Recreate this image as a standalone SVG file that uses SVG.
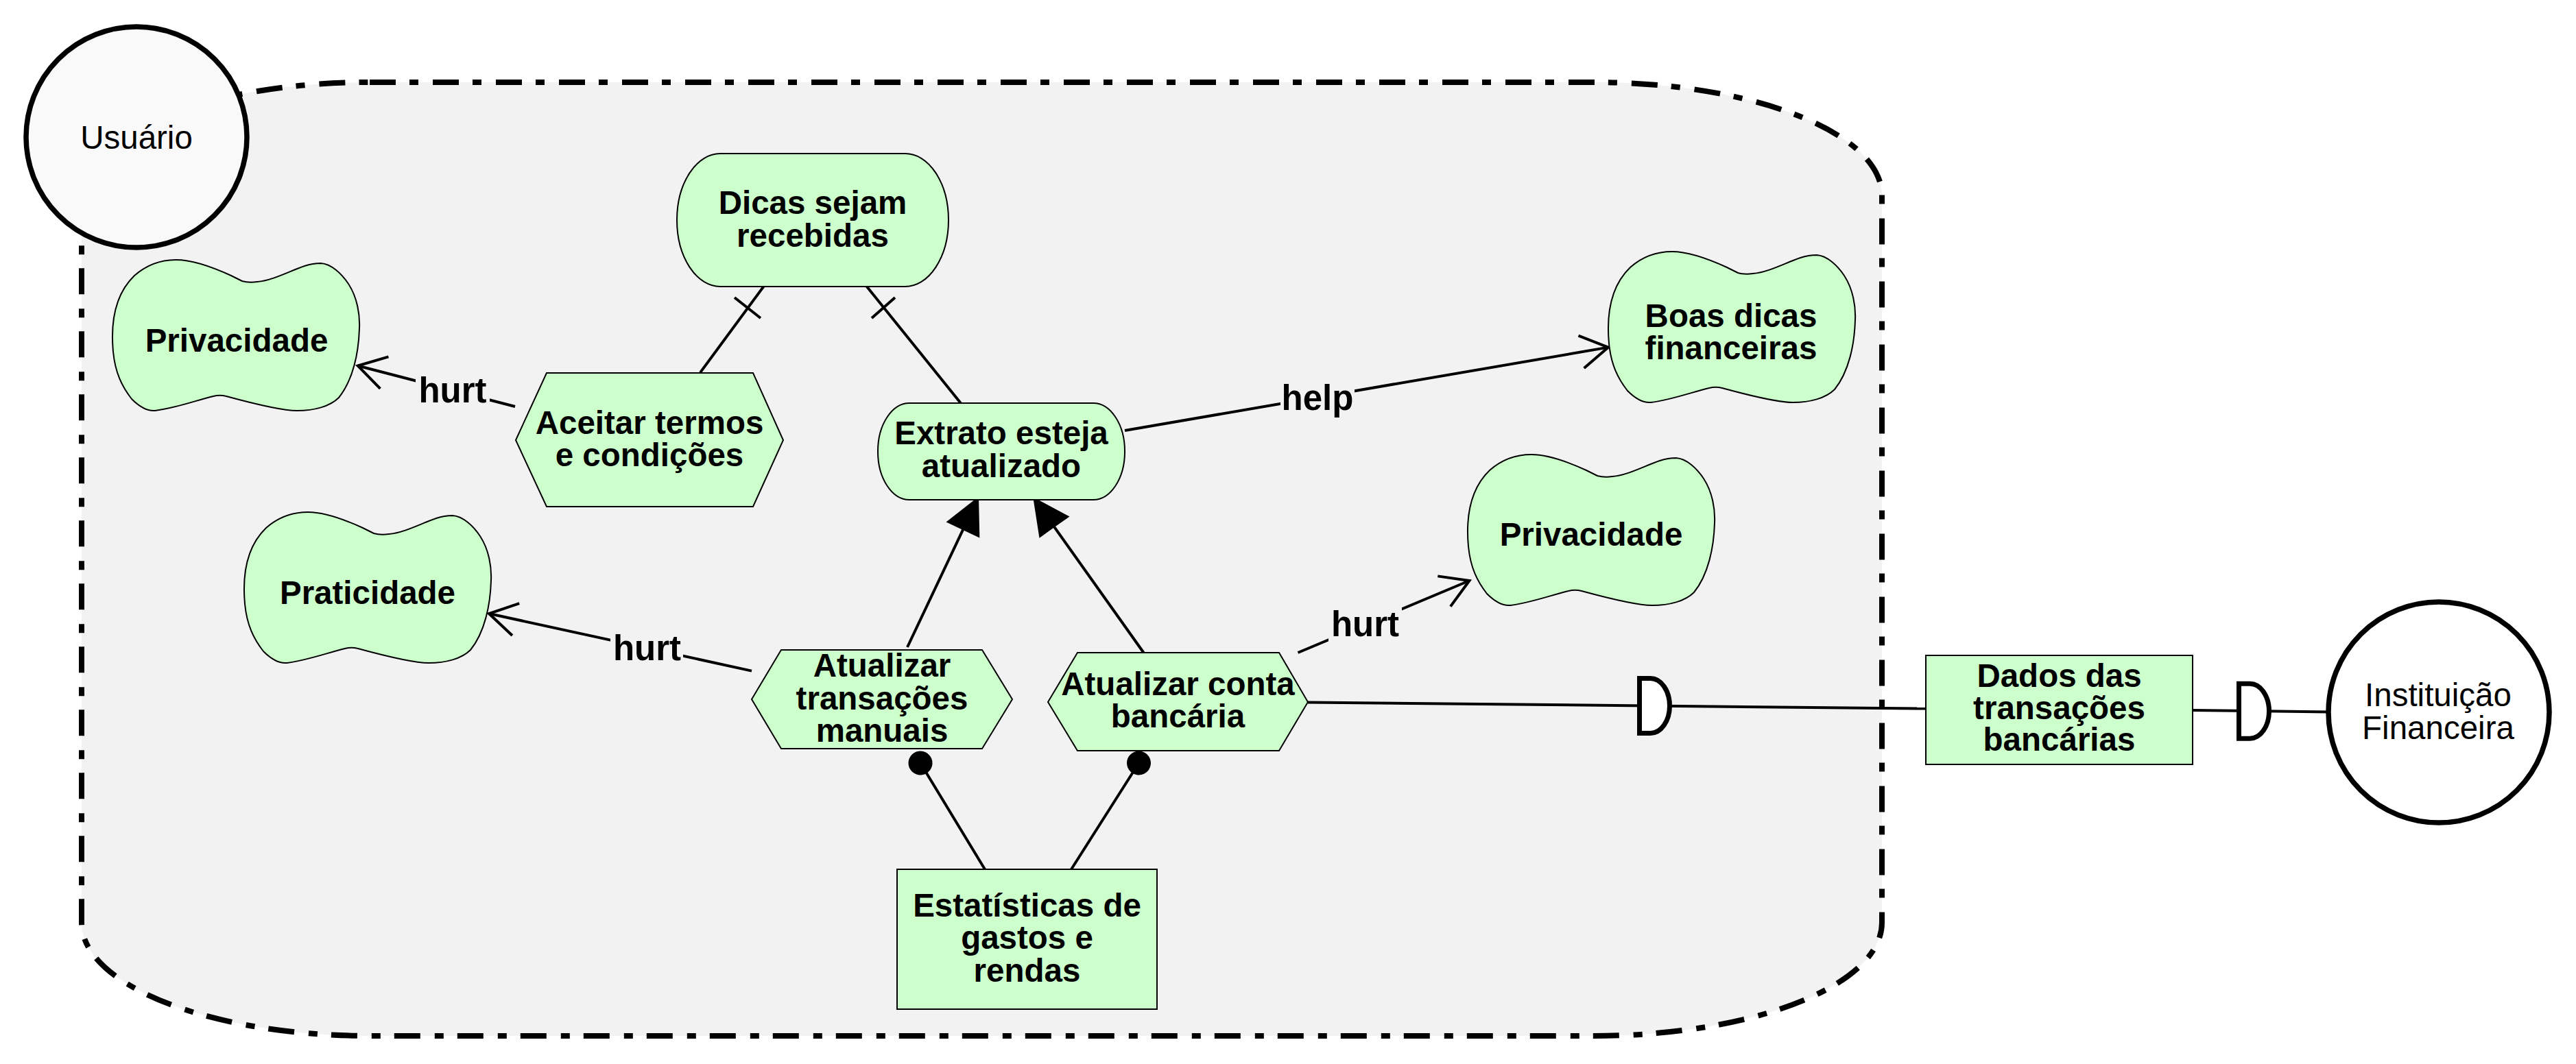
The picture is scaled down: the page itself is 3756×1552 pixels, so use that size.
<svg xmlns="http://www.w3.org/2000/svg" xmlns:xlink="http://www.w3.org/1999/xlink" width="3756" height="1552" viewBox="0 0 3756 1552">
<style>
.node{fill:#ccffcc;stroke:#000;stroke-width:2}
.t{font-family:"Liberation Sans",Arial,sans-serif;font-weight:bold;font-size:47.5px;text-anchor:middle;fill:#000}
.a{font-family:"Liberation Sans",Arial,sans-serif;font-size:47.5px;text-anchor:middle;fill:#000}
.lbl{font-family:"Liberation Sans",Arial,sans-serif;font-weight:bold;font-size:51px;text-anchor:middle;fill:#000}
.c{fill:none;stroke:#000;stroke-width:4}
.bg{fill:#f2f2f2;stroke:none}
.actor{stroke:#000;stroke-width:7.5}
.dep{fill:#fff;stroke:#000;stroke-width:7}
</style>
<defs>
<path id="cloud" d="M2,134 C-2,90 5,50 33,23 C50,8 70,0 94,0 C120,0 150,12 174,23 L190,31 C197,33 205,33 212,32 C235,30 260,16 281,9 C290,6 295,5 305,5 C320,6 335,20 345,35 C358,55 362,80 361,100 C360,135 352,175 331,201 C318,214 295,220 270,220 C245,220 200,208 167,199 C160,197 155,197 148,199 C120,206 90,217 63,220 C50,221 38,212 29,203 C15,185 5,165 2,134 Z"/>
<path id="dshape" d="M0,-40 L16,-40 A28,40 0 0 1 16,40 L0,40 Z"/>
<marker id="open" markerUnits="userSpaceOnUse" markerWidth="60" markerHeight="60" viewBox="-50 -30 60 60" refX="0" refY="0" orient="auto" overflow="visible">
<path d="M-40,-24 L0,0 L-40,24" fill="none" stroke="#000" stroke-width="4"/>
</marker>
<marker id="tri" markerUnits="userSpaceOnUse" markerWidth="70" markerHeight="70" viewBox="-60 -35 70 70" refX="0" refY="0" orient="auto" overflow="visible">
<path d="M-54,-27 L0,0 L-54,27 Z" fill="#000"/>
</marker>
<marker id="dot" markerUnits="userSpaceOnUse" markerWidth="40" markerHeight="40" viewBox="-20 -20 40 40" refX="0" refY="0" orient="auto" overflow="visible">
<circle cx="0" cy="0" r="17.5" fill="#000"/>
</marker>
</defs>

<g id="boundary">
<rect x="119" y="120" width="2625" height="1391" rx="420" ry="165" fill="#f2f2f2" stroke="#000" stroke-width="8" stroke-dasharray="38 20 13 21"/>
</g>

<g id="connectors">
<path class="c" d="M751,593 L521.7,533.5" marker-end="url(#open)"/>
<path class="c" d="M1096,978.6 L713,895" marker-end="url(#open)"/>
<path class="c" d="M1892.5,952 L2142.5,847" marker-end="url(#open)"/>
<path class="c" d="M1640,628 L2345,506.6" marker-end="url(#open)"/>
<path class="c" d="M1021,543.4 L1113.6,417.6 M1071,434 L1109,464"/>
<path class="c" d="M1400.6,587.7 L1263.5,417.6 M1305,434 L1271,464"/>
<path class="c" d="M1323,944 L1427,724.2" marker-end="url(#tri)"/>
<path class="c" d="M1667.5,952 L1506.2,725" marker-end="url(#tri)"/>
<path class="c" d="M1436,1268 L1342,1113" marker-end="url(#dot)"/>
<path class="c" d="M1562,1268 L1660.5,1113" marker-end="url(#dot)"/>
<path class="c" d="M1907,1024.5 L2808,1033.6"/>
<path class="c" d="M3197,1036 L3395.6,1038.5"/>
<use xlink:href="#dshape" class="dep" transform="translate(2390.5,1029.5)"/>
<use xlink:href="#dshape" class="dep" transform="translate(3264.5,1037.3)"/>
<rect class="bg" x="606" y="545" width="108" height="50"/>
<text class="lbl" x="660" y="587">hurt</text>
<rect class="bg" x="890" y="918" width="106" height="54"/>
<text class="lbl" x="943.5" y="963">hurt</text>
<rect class="bg" x="1937" y="882" width="107" height="56"/>
<text class="lbl" x="1990.5" y="927.5">hurt</text>
<rect class="bg" x="1867" y="556" width="108" height="52"/>
<text class="lbl" x="1921" y="597.5">help</text>
</g>

<g id="usuario">
<circle class="actor" cx="199" cy="200" r="161" fill="#f9f9f9"/>
<text class="a" x="199" y="216.5">Usuário</text>
</g>

<g id="dicas">
<rect class="node" x="987" y="224" width="396" height="194" rx="63" ry="97"/>
<text class="t" x="1185" y="312">Dicas sejam</text>
<text class="t" x="1185" y="359.5">recebidas</text>
</g>

<g id="privacidade1">
<use xlink:href="#cloud" class="node" transform="translate(163,379)"/>
<text class="t" x="345" y="513">Privacidade</text>
</g>

<g id="aceitar">
<polygon class="node" points="752,642 797,544 1098,544 1142,642 1098,739 797,739"/>
<text class="t" x="947" y="633">Aceitar termos</text>
<text class="t" x="947" y="680">e condições</text>
</g>

<g id="extrato">
<rect class="node" x="1280" y="588" width="360" height="141" rx="46" ry="70"/>
<text class="t" x="1460" y="648">Extrato esteja</text>
<text class="t" x="1460" y="695.5">atualizado</text>
</g>

<g id="boasdicas">
<use xlink:href="#cloud" class="node" transform="translate(2344,367)"/>
<text class="t" x="2524" y="476.5">Boas dicas</text>
<text class="t" x="2524" y="524">financeiras</text>
</g>

<g id="privacidade2">
<use xlink:href="#cloud" class="node" transform="translate(2139,663)"/>
<text class="t" x="2320" y="796">Privacidade</text>
</g>

<g id="praticidade">
<use xlink:href="#cloud" class="node" transform="translate(355,747)"/>
<text class="t" x="536" y="881">Praticidade</text>
</g>

<g id="manual">
<polygon class="node" points="1096,1020 1139,948 1432,948 1476,1020 1432,1092 1139,1092"/>
<text class="t" x="1286" y="987">Atualizar</text>
<text class="t" x="1286" y="1035">transações</text>
<text class="t" x="1286" y="1082">manuais</text>
</g>

<g id="conta">
<polygon class="node" points="1528,1024 1571,952 1865,952 1907,1024 1865,1095 1571,1095"/>
<text class="t" x="1717.5" y="1014">Atualizar conta</text>
<text class="t" x="1717.5" y="1061">bancária</text>
</g>

<g id="estatisticas">
<rect class="node" x="1308" y="1268" width="379" height="204"/>
<text class="t" x="1497.5" y="1336.5">Estatísticas de</text>
<text class="t" x="1497.5" y="1384">gastos e</text>
<text class="t" x="1497.5" y="1432">rendas</text>
</g>

<g id="dados">
<rect class="node" x="2808" y="956" width="389" height="159"/>
<text class="t" x="3002.5" y="1001.5">Dados das</text>
<text class="t" x="3002.5" y="1049">transações</text>
<text class="t" x="3002.5" y="1095">bancárias</text>
</g>

<g id="instituicao">
<circle class="actor" cx="3556" cy="1039" r="161" fill="#ffffff"/>
<text class="a" x="3555" y="1030">Instituição</text>
<text class="a" x="3555" y="1078">Financeira</text>
</g>
</svg>
